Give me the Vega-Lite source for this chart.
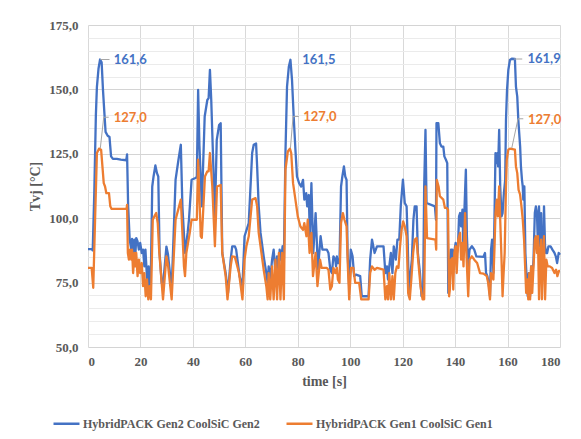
{
"$schema": "https://vega.github.io/schema/vega-lite/v6.json",
"width": 472, "height": 322,
"autosize": {"type": "none"},
"padding": {"left": 88, "top": 25, "right": 21, "bottom": 92},
"background": "white",
"config": {"view": {"stroke": null},
 "axis": {"labelFont": "Liberation Serif", "labelFontWeight": "bold", "labelFontSize": 13, "labelColor": "#595959", "titleFont": "Liberation Serif", "titleFontSize": 14, "titleFontWeight": "bold", "titleColor": "#595959", "tickSize": 0, "domain": false, "grid": true, "labelOverlap": false, "titlePadding": 6},
 "legend": {"labelFont": "Liberation Serif", "labelFontWeight": "bold", "labelFontSize": 12, "labelColor": "#595959"}
},
"datasets": {
"gen2": [
{"t":0,"v":88.0},{"t":1.4,"v":88.0},{"t":1.8,"v":87.5},{"t":2.4,"v":110},{"t":3.0,"v":140},{"t":3.4,"v":151},{"t":4.0,"v":158},{"t":4.6,"v":161.6},{"t":5.2,"v":160.5},{"t":5.7,"v":150},{"t":6.3,"v":140},{"t":6.7,"v":133.5},{"t":7.5,"v":132},{"t":8.2,"v":131.5},{"t":8.8,"v":124},{"t":9.5,"v":123},{"t":11,"v":123},{"t":12.5,"v":122.7},{"t":14.6,"v":122.5},{"t":14.9,"v":124.8},{"t":15.3,"v":105},{"t":15.9,"v":91.7},{"t":16.5,"v":87.8},{"t":16.8,"v":92},{"t":17.2,"v":84},{"t":17.7,"v":91.7},{"t":18.1,"v":86.5},{"t":18.4,"v":92.3},{"t":18.9,"v":91},{"t":19.4,"v":87.8},{"t":19.9,"v":90.4},{"t":20.5,"v":86.5},{"t":21,"v":87.8},{"t":21.5,"v":81.3},{"t":21.9,"v":87.8},{"t":22.4,"v":78.7},{"t":22.8,"v":73.6},{"t":23.1,"v":81.3},{"t":23.5,"v":72.3},{"t":24,"v":80},{"t":24.5,"v":112.3},{"t":25,"v":116.2},{"t":25.7,"v":120.5},{"t":26.3,"v":117.5},{"t":26.8,"v":116.2},{"t":27.3,"v":86.5},{"t":28.1,"v":74.9},{"t":28.6,"v":73.6},{"t":29.9,"v":89.0},{"t":30.5,"v":86},{"t":31.9,"v":72.3},{"t":33.4,"v":115},{"t":34.5,"v":122.7},{"t":35.4,"v":128.5},{"t":36.0,"v":104.6},{"t":37.0,"v":86.5},{"t":38.0,"v":94.3},{"t":38.5,"v":99.4},{"t":39.5,"v":114.9},{"t":41.0,"v":115.6},{"t":41.5,"v":116},{"t":42.0,"v":149.8},{"t":42.5,"v":128},{"t":43.4,"v":104.6},{"t":44.5,"v":139.5},{"t":45.5,"v":145.9},{"t":46.0,"v":146.6},{"t":46.5,"v":157.6},{"t":47.0,"v":145.9},{"t":48.4,"v":100.7},{"t":49.1,"v":130.4},{"t":50.0,"v":136.2},{"t":50.6,"v":136.9},{"t":51.2,"v":86.5},{"t":52.5,"v":78.7},{"t":53.4,"v":71.0},{"t":54.4,"v":83.9},{"t":55.0,"v":89.1},{"t":56.0,"v":89.1},{"t":56.5,"v":87.8},{"t":57.8,"v":77.5},{"t":58.9,"v":73.6},{"t":59.7,"v":93},{"t":61.3,"v":98.1},{"t":62.6,"v":125.3},{"t":63.2,"v":128.5},{"t":64.1,"v":129},{"t":64.5,"v":120.1},{"t":65.1,"v":104.6},{"t":65.8,"v":94.3},{"t":67.0,"v":85.2},{"t":68.0,"v":78.7},{"t":68.5,"v":74.9},{"t":68.9,"v":81.3},{"t":69.5,"v":76.2},{"t":70.2,"v":83.9},{"t":70.8,"v":87.8},{"t":71.5,"v":78.7},{"t":72.1,"v":85.2},{"t":72.8,"v":78.7},{"t":73.1,"v":87.8},{"t":73.7,"v":83.9},{"t":74.2,"v":89.1},{"t":74.7,"v":83.9},{"t":75.3,"v":125.3},{"t":75.9,"v":151.1},{"t":76.6,"v":158.9},{"t":77.2,"v":161.5},{"t":77.8,"v":153.7},{"t":78.5,"v":138.2},{"t":79.1,"v":126.6},{"t":79.7,"v":116.2},{"t":80.5,"v":113.6},{"t":81.3,"v":112.3},{"t":82.0,"v":114.9},{"t":82.5,"v":107.2},{"t":83.2,"v":109.7},{"t":83.6,"v":104.6},{"t":84.2,"v":109},{"t":84.6,"v":93},{"t":85.2,"v":113.6},{"t":85.9,"v":86.5},{"t":86.8,"v":102},{"t":87.7,"v":80},{"t":88.7,"v":93},{"t":89.4,"v":87.8},{"t":91.1,"v":87.8},{"t":91.7,"v":86.5},{"t":92.4,"v":80},{"t":93.0,"v":78.7},{"t":93.6,"v":85.2},{"t":94.3,"v":83.9},{"t":94.6,"v":81.3},{"t":94.9,"v":85.2},{"t":95.3,"v":82.6},{"t":95.9,"v":82.6},{"t":96.5,"v":112.3},{"t":97.0,"v":116.2},{"t":97.6,"v":120.1},{"t":98.1,"v":116.2},{"t":98.6,"v":114.9},{"t":99.0,"v":86.5},{"t":99.6,"v":73.6},{"t":100.2,"v":87.8},{"t":100.9,"v":85.2},{"t":101.5,"v":77.5},{"t":102.2,"v":78.1},{"t":103.8,"v":77.5},{"t":104.4,"v":69.7},{"t":107.0,"v":69.7},{"t":107.6,"v":83.9},{"t":108.3,"v":91.7},{"t":109.3,"v":86.5},{"t":110.2,"v":89.1},{"t":112.7,"v":89.1},{"t":113.4,"v":78.7},{"t":114.0,"v":81.3},{"t":114.4,"v":76.2},{"t":114.9,"v":81.3},{"t":115.5,"v":86.5},{"t":116.1,"v":78.7},{"t":116.6,"v":89.1},{"t":117.4,"v":83.9},{"t":118.0,"v":91.7},{"t":118.7,"v":91.7},{"t":119.3,"v":105},{"t":120.1,"v":115},{"t":120.8,"v":105.9},{"t":121.5,"v":104.6},{"t":121.9,"v":91.7},{"t":122.4,"v":69.7},{"t":123.0,"v":78.7},{"t":123.5,"v":83.9},{"t":124.1,"v":99.4},{"t":124.6,"v":104.6},{"t":125.3,"v":104.6},{"t":125.8,"v":86.5},{"t":126.6,"v":78.7},{"t":127.2,"v":69.7},{"t":127.8,"v":69.7},{"t":128.2,"v":112.3},{"t":128.7,"v":134.3},{"t":129.1,"v":105.9},{"t":132.3,"v":104.6},{"t":132.7,"v":99.4},{"t":132.9,"v":136.9},{"t":133.6,"v":136.9},{"t":134.2,"v":129.1},{"t":134.8,"v":127.8},{"t":135.5,"v":127.8},{"t":135.9,"v":124},{"t":136.5,"v":122.7},{"t":137.0,"v":121.4},{"t":137.4,"v":71.0},{"t":138.0,"v":81.3},{"t":138.4,"v":87.8},{"t":138.9,"v":87.8},{"t":139.3,"v":81.3},{"t":139.8,"v":87.8},{"t":140.2,"v":90.4},{"t":140.7,"v":86.5},{"t":141.1,"v":89.1},{"t":141.5,"v":100.7},{"t":141.9,"v":102},{"t":142.3,"v":96.8},{"t":142.8,"v":103.3},{"t":143.2,"v":86.5},{"t":143.6,"v":104.6},{"t":144.1,"v":118.8},{"t":144.5,"v":93},{"t":145.0,"v":81.3},{"t":145.5,"v":87.8},{"t":146.4,"v":89.1},{"t":147.3,"v":87.8},{"t":148.1,"v":85.2},{"t":150.8,"v":85},{"t":151.4,"v":86.5},{"t":151.8,"v":78.7},{"t":152.3,"v":77.5},{"t":152.8,"v":74.9},{"t":153.3,"v":69.7},{"t":153.7,"v":87.8},{"t":154.1,"v":91.7},{"t":154.6,"v":78.7},{"t":155.0,"v":99.4},{"t":155.4,"v":125.3},{"t":155.8,"v":121.4},{"t":156.2,"v":125.3},{"t":156.4,"v":120.1},{"t":156.8,"v":134.3},{"t":157.2,"v":112.3},{"t":157.7,"v":100.7},{"t":158.1,"v":102},{"t":158.6,"v":109.7},{"t":159.1,"v":114.9},{"t":159.4,"v":138.2},{"t":159.8,"v":149.8},{"t":160.3,"v":157.6},{"t":160.9,"v":161.4},{"t":161.6,"v":161.9},{"t":162.8,"v":161.8},{"t":163.2,"v":151.1},{"t":163.7,"v":147.2},{"t":164.1,"v":138.2},{"t":164.8,"v":127.8},{"t":165.1,"v":120.1},{"t":165.5,"v":114.9},{"t":165.8,"v":112.3},{"t":166.0,"v":107.2},{"t":166.4,"v":112.3},{"t":166.8,"v":86.5},{"t":167.3,"v":76.2},{"t":167.7,"v":69.7},{"t":168.1,"v":78.7},{"t":168.6,"v":69.7},{"t":169.0,"v":81.3},{"t":169.4,"v":76.2},{"t":169.9,"v":83.9},{"t":170.4,"v":102},{"t":170.8,"v":104.6},{"t":171.2,"v":102},{"t":171.6,"v":89.1},{"t":172.0,"v":104.6},{"t":172.4,"v":89.1},{"t":172.8,"v":102},{"t":173.1,"v":83.9},{"t":173.5,"v":81.3},{"t":173.9,"v":104.6},{"t":174.3,"v":89.1},{"t":174.7,"v":86.5},{"t":175.1,"v":86.5},{"t":175.6,"v":89.1},{"t":176.4,"v":89.1},{"t":177.1,"v":87.8},{"t":177.9,"v":86.5},{"t":178.4,"v":85.2},{"t":178.9,"v":82.6},{"t":179.5,"v":86.5},{"t":180,"v":85.8}
],
"gen1": [
{"t":0,"v":80.7},{"t":1.4,"v":80.7},{"t":2.0,"v":73},{"t":2.7,"v":99.4},{"t":3.4,"v":125.3},{"t":4.2,"v":127},{"t":5.0,"v":126.6},{"t":5.5,"v":120.1},{"t":6.0,"v":113.6},{"t":6.5,"v":112.3},{"t":7.0,"v":109.7},{"t":8.0,"v":109.7},{"t":8.5,"v":104.6},{"t":9.0,"v":103.6},{"t":14.7,"v":103.6},{"t":14.9,"v":105.2},{"t":15.2,"v":86.5},{"t":15.6,"v":83.9},{"t":16.0,"v":87.8},{"t":16.5,"v":83.9},{"t":16.8,"v":87.8},{"t":17.2,"v":78.7},{"t":17.7,"v":86.5},{"t":18.1,"v":81.3},{"t":18.4,"v":86.5},{"t":18.9,"v":77.5},{"t":19.4,"v":83.9},{"t":19.9,"v":78.7},{"t":20.5,"v":82.6},{"t":21.0,"v":73.6},{"t":21.5,"v":78.7},{"t":22.0,"v":69.7},{"t":22.5,"v":76.2},{"t":23.0,"v":68.5},{"t":23.5,"v":73.6},{"t":24.0,"v":68.5},{"t":24.7,"v":99.4},{"t":25.3,"v":100.7},{"t":26.0,"v":102},{"t":26.6,"v":98.1},{"t":27.2,"v":86.5},{"t":28.1,"v":74.9},{"t":28.6,"v":68.5},{"t":29.9,"v":85.2},{"t":30.5,"v":82},{"t":31.9,"v":68.5},{"t":33.4,"v":99.4},{"t":35.4,"v":107.2},{"t":36.6,"v":81.3},{"t":37.0,"v":77.5},{"t":37.5,"v":86.5},{"t":38.8,"v":94.3},{"t":39.5,"v":99.4},{"t":41.5,"v":99.4},{"t":42.0,"v":122.7},{"t":43.0,"v":93},{"t":43.4,"v":92.4},{"t":44.6,"v":116.2},{"t":45.5,"v":118.2},{"t":46.0,"v":118.2},{"t":46.5,"v":125.3},{"t":47.4,"v":112.3},{"t":48.4,"v":89.1},{"t":49.2,"v":112.3},{"t":50.6,"v":112.9},{"t":51.2,"v":86.5},{"t":52.5,"v":77.5},{"t":53.2,"v":68.5},{"t":54.4,"v":81.3},{"t":55.0,"v":85.2},{"t":56.0,"v":85},{"t":57.6,"v":78.7},{"t":58.9,"v":68.5},{"t":59.7,"v":83.9},{"t":60.4,"v":89.1},{"t":61.3,"v":93},{"t":62.6,"v":107.2},{"t":63.9,"v":107.8},{"t":64.5,"v":104.6},{"t":65.1,"v":94.3},{"t":65.8,"v":89.1},{"t":67.0,"v":80},{"t":68.0,"v":73.6},{"t":68.5,"v":68.5},{"t":68.9,"v":78.7},{"t":69.5,"v":68.5},{"t":70.2,"v":81.3},{"t":70.8,"v":68.5},{"t":71.5,"v":83.9},{"t":72.1,"v":68.5},{"t":72.8,"v":86.5},{"t":73.4,"v":68.5},{"t":74.0,"v":86.5},{"t":74.7,"v":68.5},{"t":75.3,"v":118.8},{"t":76.2,"v":125.9},{"t":77.0,"v":127},{"t":77.5,"v":125.3},{"t":78.2,"v":113.6},{"t":79.1,"v":107.2},{"t":80.0,"v":100.7},{"t":81.0,"v":96.8},{"t":82.0,"v":95.5},{"t":82.5,"v":98.1},{"t":83.3,"v":93},{"t":83.8,"v":99.4},{"t":84.5,"v":86.5},{"t":85.2,"v":94.3},{"t":85.8,"v":77.5},{"t":86.8,"v":86.5},{"t":87.5,"v":73.6},{"t":88.5,"v":83.9},{"t":89.1,"v":80.7},{"t":91.1,"v":80.7},{"t":91.7,"v":80},{"t":92.4,"v":72.3},{"t":93.0,"v":73.6},{"t":93.6,"v":80.7},{"t":94.3,"v":78.7},{"t":94.9,"v":80.7},{"t":95.3,"v":76.2},{"t":95.9,"v":74.9},{"t":96.5,"v":98.1},{"t":97.2,"v":102},{"t":97.8,"v":99.4},{"t":98.6,"v":96.8},{"t":99.1,"v":81.3},{"t":99.6,"v":68.5},{"t":100.3,"v":80.7},{"t":101.2,"v":80.7},{"t":101.9,"v":74.9},{"t":103.4,"v":74.9},{"t":104.2,"v":68.5},{"t":107.0,"v":68.5},{"t":107.6,"v":78.7},{"t":108.3,"v":81.3},{"t":109.3,"v":80},{"t":110.2,"v":80.7},{"t":112.7,"v":80},{"t":113.4,"v":68.5},{"t":114.0,"v":73.6},{"t":114.4,"v":68.5},{"t":114.9,"v":78.7},{"t":115.5,"v":68.5},{"t":116.1,"v":77.5},{"t":116.6,"v":68.5},{"t":117.2,"v":78.7},{"t":117.8,"v":81.3},{"t":118.4,"v":80.7},{"t":119.0,"v":89.1},{"t":119.6,"v":95.5},{"t":120.2,"v":98.8},{"t":120.8,"v":96.8},{"t":121.5,"v":93},{"t":122.1,"v":71},{"t":122.7,"v":68.5},{"t":123.3,"v":76.2},{"t":124.0,"v":86.5},{"t":124.6,"v":91.7},{"t":125.3,"v":92.3},{"t":125.9,"v":83.9},{"t":126.8,"v":73.6},{"t":127.6,"v":68.5},{"t":128.2,"v":68.5},{"t":128.7,"v":112.3},{"t":129.3,"v":92.3},{"t":132.5,"v":91.7},{"t":132.8,"v":87.8},{"t":133.0,"v":114.9},{"t":133.7,"v":112.3},{"t":134.2,"v":108.5},{"t":135.5,"v":107.2},{"t":136.1,"v":104},{"t":136.8,"v":104},{"t":137.3,"v":103.3},{"t":137.7,"v":69.7},{"t":138.0,"v":72.3},{"t":138.4,"v":83.9},{"t":138.9,"v":84.5},{"t":139.3,"v":72.3},{"t":139.7,"v":86.5},{"t":140.2,"v":89.1},{"t":140.6,"v":78.7},{"t":141.2,"v":91.7},{"t":141.9,"v":94.3},{"t":142.3,"v":83.9},{"t":142.8,"v":90.4},{"t":143.2,"v":81.3},{"t":143.8,"v":102},{"t":144.3,"v":86.5},{"t":145.0,"v":69.7},{"t":145.5,"v":83.9},{"t":146.4,"v":85.2},{"t":147.3,"v":83.9},{"t":148.4,"v":82.6},{"t":149.5,"v":78.7},{"t":150.8,"v":78.5},{"t":152.1,"v":77.5},{"t":152.6,"v":74.9},{"t":153.3,"v":68.5},{"t":153.7,"v":78.7},{"t":154.1,"v":77.5},{"t":154.6,"v":76.2},{"t":155.0,"v":87.8},{"t":155.4,"v":102},{"t":155.9,"v":107.2},{"t":156.3,"v":100.7},{"t":156.8,"v":112.3},{"t":157.2,"v":99.4},{"t":157.7,"v":83.9},{"t":158.1,"v":69.7},{"t":158.5,"v":78.7},{"t":158.9,"v":86.5},{"t":159.4,"v":112.3},{"t":159.7,"v":122.7},{"t":160.3,"v":126.6},{"t":160.9,"v":127},{"t":162.8,"v":126.6},{"t":163.2,"v":120.1},{"t":163.7,"v":117.5},{"t":164.2,"v":111},{"t":164.8,"v":109.1},{"t":165.3,"v":104.6},{"t":165.8,"v":99.4},{"t":166.3,"v":91.7},{"t":166.7,"v":81.3},{"t":167.1,"v":71},{"t":167.5,"v":76.2},{"t":167.9,"v":68.5},{"t":168.3,"v":78.7},{"t":168.6,"v":68.5},{"t":169.0,"v":81.3},{"t":169.4,"v":71},{"t":169.9,"v":81.3},{"t":170.4,"v":91.7},{"t":170.8,"v":93},{"t":171.2,"v":86.5},{"t":171.6,"v":93},{"t":172.0,"v":68.5},{"t":172.4,"v":86.5},{"t":172.8,"v":91.7},{"t":173.1,"v":68.5},{"t":173.5,"v":83.9},{"t":173.9,"v":93},{"t":174.3,"v":68.5},{"t":174.8,"v":83.9},{"t":175.3,"v":81.3},{"t":176.1,"v":81.3},{"t":177.0,"v":80.7},{"t":177.9,"v":78.7},{"t":178.5,"v":80},{"t":179.0,"v":77.5},{"t":179.6,"v":79.5},{"t":180,"v":79.5}
],
"leaders": [
{"x1":4.7,"y1":161.6,"x2":8.2,"y2":161.6},
{"x1":4.7,"y1":127.2,"x2":6.0,"y2":139.2},
{"x1":6.0,"y1":139.2,"x2":7.9,"y2":139.2},
{"x1":77.2,"y1":127.2,"x2":78.2,"y2":139.5},
{"x1":78.2,"y1":139.5,"x2":80.4,"y2":139.5},
{"x1":162.4,"y1":161.8,"x2":165.6,"y2":161.8},
{"x1":161.6,"y1":127.2,"x2":164.0,"y2":138.6},
{"x1":164.0,"y1":138.6,"x2":166.0,"y2":138.6}
],
"labels": [
{"s":"Gen2","t":9.8,"v":161.4,"label":"161,6"},
{"s":"Gen1","t":9.8,"v":138.8,"label":"127,0"},
{"s":"Gen2","t":81.7,"v":161.4,"label":"161,5"},
{"s":"Gen1","t":82.1,"v":139.2,"label":"127,0"},
{"s":"Gen2","t":167.6,"v":161.7,"label":"161,9"},
{"s":"Gen1","t":167.8,"v":138.2,"label":"127,0"}
]
},
"layer": [
{
"data": {"name": "gen2"},
"mark": {"type": "line", "strokeWidth": 2.3, "strokeJoin": "round"},
"encoding": {
"x": {"field": "t", "type": "quantitative", "title": "time [s]", "scale": {"domain": [0, 180], "nice": false},
 "axis": {"tickCount": 9, "labelAngle": 0, "gridColor": "#d9d9d9", "labelPadding": 8}},
"y": {"field": "v", "type": "quantitative", "title": "Tvj [°C]", "scale": {"domain": [50, 175], "nice": false},
 "axis": {"tickCount": 25, "labelExpr": "datum.value % 25 === 0 ? replace(format(datum.value, '.1f'), '.', ',') : ''", "gridColor": {"condition": {"test": "datum.value % 25 === 0", "value": "#d4d4d4"}, "value": "#ebebeb"}, "labelPadding": 10}},
"color": {"datum": "HybridPACK Gen2 CoolSiC Gen2", "type": "nominal",
 "scale": {"domain": ["HybridPACK Gen2 CoolSiC Gen2", "HybridPACK Gen1 CoolSiC Gen1"], "range": ["#4472C4", "#ED7D31"]},
 "legend": {"orient": "none", "legendX": -36, "legendY": 384, "direction": "horizontal", "title": null, "symbolType": "stroke", "symbolSize": 676, "symbolStrokeWidth": 2.5, "labelOffset": 2, "labelLimit": 0, "columnPadding": 21, "padding": 0}}
}
},
{
"data": {"name": "gen1"},
"mark": {"type": "line", "strokeWidth": 2.3, "strokeJoin": "round"},
"encoding": {
"x": {"field": "t", "type": "quantitative", "title": "time [s]"},
"y": {"field": "v", "type": "quantitative", "title": "Tvj [°C]"},
"color": {"datum": "HybridPACK Gen1 CoolSiC Gen1", "type": "nominal"}
}
},
{
"data": {"name": "leaders"},
"mark": {"type": "rule", "color": "#a6a6a6", "strokeWidth": 1},
"encoding": {
"x": {"field": "x1", "type": "quantitative", "title": "time [s]"},
"y": {"field": "y1", "type": "quantitative", "title": "Tvj [°C]"},
"x2": {"field": "x2"},
"y2": {"field": "y2"}
}
},
{
"data": {"name": "labels"},
"transform": [{"filter": "datum.s === 'Gen2'"}],
"mark": {"type": "text", "align": "left", "baseline": "middle", "font": "Lato", "fontWeight": "bold", "fontSize": 13, "color": "#4472C4"},
"encoding": {
"x": {"field": "t", "type": "quantitative", "title": "time [s]"},
"y": {"field": "v", "type": "quantitative", "title": "Tvj [°C]"},
"text": {"field": "label"}
}
},
{
"data": {"name": "labels"},
"transform": [{"filter": "datum.s === 'Gen1'"}],
"mark": {"type": "text", "align": "left", "baseline": "middle", "font": "Lato", "fontWeight": "bold", "fontSize": 13, "color": "#ED7D31"},
"encoding": {
"x": {"field": "t", "type": "quantitative", "title": "time [s]"},
"y": {"field": "v", "type": "quantitative", "title": "Tvj [°C]"},
"text": {"field": "label"}
}
}
]
}
